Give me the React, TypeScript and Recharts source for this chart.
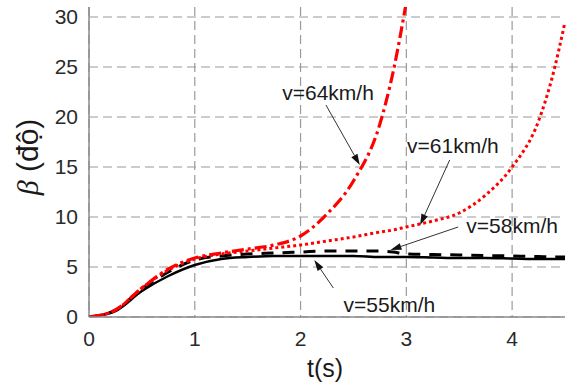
import { LineChart, Line, XAxis, YAxis, CartesianGrid, ReferenceLine, ReferenceDot } from 'recharts';

// time (s)
const time = [0, 0.25, 0.5, 0.75, 1, 1.25, 1.5, 1.75, 2, 2.25, 2.5, 2.75, 2.875, 3, 3.25, 3.5, 3.75, 4, 4.25, 4.375, 4.5];
// sideslip angle beta (deg) for each speed
const v55 = [0, 0.6, 2.6, 4.1, 5.2, 5.8, 6.0, 6.1, 6.1, 6.1, 6.1, 6.0, 6.0, 6.0, 5.95, 5.9, 5.9, 5.85, 5.8, 5.8, 5.8];
const v58 = [0, 0.7, 2.8, 4.5, 5.7, 6.1, 6.3, 6.4, 6.5, 6.6, 6.6, 6.6, 6.5, 6.3, 6.25, 6.2, 6.15, 6.1, 6.05, 6.0, 6.0];
const v61 = [0, 0.7, 2.9, 4.7, 5.8, 6.3, 6.6, 6.9, 7.2, 7.6, 8.0, 8.5, 8.7, 9.0, 9.6, 10.4, 12.2, 15.0, 19.6, 23.8, 29.5];
const v64 = [0, 0.7, 2.9, 4.8, 5.9, 6.4, 6.8, 7.2, 8.1, 10.3, 13.6, 19.3, 24.5, 31.5, null, null, null, null, null, null, null];

const xTicks = [0, 1, 2, 3, 4];
const yTicks = [0, 5, 10, 15, 20, 25, 30];

// annotations: label, text anchor (t, beta), arrow from -> to
const noteLabels = ['v=64km/h', 'v=61km/h', 'v=58km/h', 'v=55km/h'];
const notePos = [[2.26, 21.7], [3.44, 16.4], [4.0, 8.4], [2.84, 0.5]];
const arrowFrom = [[2.24, 21.2], [3.41, 15.7], [3.49, 9.0], [2.31, 2.9]];
const arrowTo = [[2.56, 15.2], [3.13, 9.2], [2.85, 6.7], [2.13, 5.7]];

const data = time.map((t, i) => ({ t, v55: v55[i], v58: v58[i], v61: v61[i], v64: v64[i] }));

const FONT = '"Liberation Sans", Arial, sans-serif';

const Arrow = (props: any) => {
  const { x1, y1, x2, y2 } = props;
  const ang = Math.atan2(y2 - y1, x2 - x1);
  const len = 11;
  const w = 3.5;
  const bx = x2 - len * Math.cos(ang);
  const by = y2 - len * Math.sin(ang);
  const px = -Math.sin(ang) * w;
  const py = Math.cos(ang) * w;
  return (
    <g>
      <line x1={x1} y1={y1} x2={bx} y2={by} stroke="#333" strokeWidth={1} />
      <polygon points={`${x2},${y2} ${bx + px},${by + py} ${bx - px},${by - py}`} fill="#111" />
    </g>
  );
};

const NoteText = (label: string) => (props: any) => (
  <text x={props.cx} y={props.cy} textAnchor="middle" fontSize={21} fontFamily={FONT} fill="#1a1a1a">
    {label}
  </text>
);

const YLabel = () => (
  <text
    transform="translate(38,157) rotate(-90)"
    textAnchor="middle"
    fontSize={30}
    fontFamily={FONT}
    fill="#1a1a1a"
  >
    <tspan fontFamily='"Liberation Serif", serif' fontStyle="italic">β</tspan>
    <tspan> (độ)</tspan>
  </text>
);

const XLabel = () => (
  <text x={325} y={377} textAnchor="middle" fontSize={25} fontFamily={FONT} fill="#1a1a1a">
    t(s)
  </text>
);

export default function App() {
  return (
    <div style={{ position: 'absolute', left: 0, top: 0, background: '#fff' }}>
      <LineChart width={566} height={385} data={data} margin={{ top: 7, right: 1, bottom: 0, left: 0 }}>
        <CartesianGrid stroke="#9a9a9a" strokeDasharray="9 5" strokeWidth={1.2} horizontalValues={yTicks} verticalValues={xTicks} />
        <XAxis
          dataKey="t"
          type="number"
          domain={[0, 4.5]}
          ticks={xTicks}
          height={68}
          tickLine={false}
          tickSize={0}
          tickMargin={14}
          axisLine={{ stroke: '#8a8a8a', strokeWidth: 1.5 }}
          tick={{ fontSize: 21, fontFamily: FONT, fill: '#2a2a2a' }}
          label={<XLabel />}
        />
        <XAxis xAxisId="top" orientation="top" dataKey="t" type="number" domain={[0, 4.5]} height={0} tick={false} tickLine={false} axisLine={{ stroke: '#8a8a8a', strokeWidth: 1.5 }} />
        <YAxis
          type="number"
          domain={[0, 31]}
          ticks={yTicks}
          width={89}
          allowDataOverflow
          tickLine={false}
          tickSize={0}
          tickMargin={11}
          axisLine={{ stroke: '#8a8a8a', strokeWidth: 1.5 }}
          tick={{ fontSize: 21, fontFamily: FONT, fill: '#2a2a2a' }}
          label={<YLabel />}
        />
        <YAxis yAxisId="right" orientation="right" domain={[0, 31]} width={0} tick={false} tickLine={false} axisLine={{ stroke: '#8a8a8a', strokeWidth: 1.5 }} />
        <Line type="monotone" dataKey="v55" stroke="#000" strokeWidth={2.5} dot={false} isAnimationActive={false} />
        <Line type="monotone" dataKey="v58" stroke="#000" strokeWidth={3} strokeDasharray="12 9" dot={false} isAnimationActive={false} />
        <Line type="monotone" dataKey="v61" stroke="#ff0000" strokeWidth={3} strokeDasharray="3 3" dot={false} isAnimationActive={false} />
        <Line type="monotone" dataKey="v64" stroke="#ff0000" strokeWidth={3.2} strokeDasharray="12 4 3 4" dot={false} connectNulls={false} isAnimationActive={false} />
        {noteLabels.map((label, i) => (
          <ReferenceLine
            key={'a' + label}
            segment={[{ x: arrowFrom[i][0], y: arrowFrom[i][1] }, { x: arrowTo[i][0], y: arrowTo[i][1] }]}
            ifOverflow="visible"
            shape={Arrow}
          />
        ))}
        {noteLabels.map((label, i) => (
          <ReferenceDot key={'n' + label} x={notePos[i][0]} y={notePos[i][1]} r={0} ifOverflow="visible" shape={NoteText(label)} />
        ))}
      </LineChart>
    </div>
  );
}
